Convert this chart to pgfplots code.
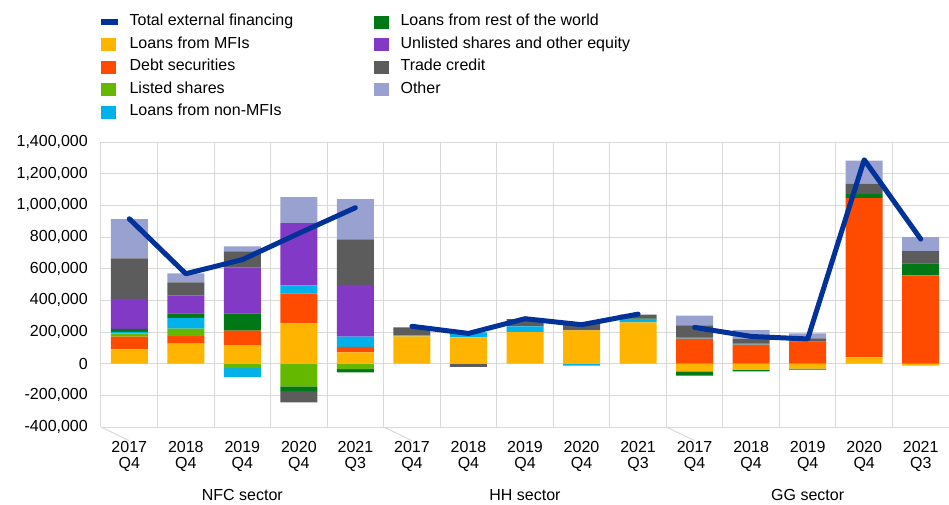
\documentclass[border=0pt]{standalone}
\usepackage{pgfplots}
\pgfplotsset{compat=1.18}
\usepackage{pgfplotstable}
\usepackage{fontspec}
\setmainfont{Liberation Sans}
\newcommand\lf{\fontsize{16}{16.6}\selectfont}

\definecolor{tot}{HTML}{003299}
\definecolor{mfi}{HTML}{FFB400}
\definecolor{debt}{HTML}{FF4B00}
\definecolor{lst}{HTML}{65B800}
\definecolor{nmfi}{HTML}{00B1EA}
\definecolor{rw}{HTML}{007816}
\definecolor{unl}{HTML}{8139C6}
\definecolor{trd}{HTML}{5C5C5C}
\definecolor{oth}{HTML}{98A1D0}
\definecolor{grd}{HTML}{D9D9D9}

% positive parts of each bar
\pgfplotstableread{
x  mfi    debt    lst   nmfi  rw    unl    trd    oth
0  90500  80000   21000 10000 19000 189500 254700 248400
1  126300 48400   46300 67400 29500 111600 84200  56800
2  117900 90500   0     0     109500 288400 103100 31600
3  254700 187300  0     52600 0     393600 0      164200
4  71600  33700   0     65300 0     326300 288400 254700
5  172700 0       0     6000  0     0      50500  0
6  166000 0       0     31600 0     0      0      0
7  200000 0       0     36000 0     0      46000  0
8  210000 0       0     0     0     0      40000  0
9  261000 0       0     17000 6000  0      25000  0
10 0      157900  0     10500 0     0      73700  61000
11 0      120000  0     10500 0     0      27400  54700
12 0      139000  0     0     0     0      21000  31600
13 40000  1006200 0     0     25300 0      65300  145200
14 0      557800  0     0     75800 0      77900  88400
}\pos

% negative parts of each bar
\pgfplotstableread{
x  mfi    debt lst     nmfi   rw     unl trd    oth
0  0      0    0       0      0      0   0      0
1  0      0    0       0      0      0   0      0
2  0      0    -27400  -57000 0      0   0      0
3  0      0    -143100 0      -29500 0   -71600 0
4  0      0    -33700  0      -21000 0   0      0
5  0      0    0       0      0      0   0      0
6  0      0    0       0      0      0   -21000 0
7  0      0    0       0      0      0   0      0
8  0      0    0       -12600 0      0   0      0
9  0      0    0       0      0      0   0      0
10 -48400 0    0       0      -27400 0   0      0
11 -37900 0    0       0      -10500 0   0      0
12 -31600 0    0       0      -6300  0   0      0
13 0      0    0       0      0      0   0      0
14 -12600 0    0       0      0      0   0      0
}\negv

\pgfplotsset{
  base/.style={
    at={(0,0)}, anchor=south west,
    scale only axis, width=848pt, height=285pt,
    xmin=-0.5, xmax=14.5, ymin=-400000, ymax=1400000,
    clip=false,
  },
  bars/.style={base, ybar stacked, bar width=37pt},
  sq/.style={legend image code/.code={\fill[#1] (0pt,-6pt) rectangle (14pt,6pt);}},
  leg/.style={
    legend cell align=left,
    legend style={draw=none, fill=none, anchor=north west, at={(#1,1.4484)},
      inner sep=0pt, row sep=7.5pt, font=\lf,
      nodes={inner sep=0pt, text height=11.5pt, text depth=3.5pt},
      /tikz/every odd column/.append style={column sep=12pt}},
  },
}

\begin{document}
\begin{tikzpicture}
\path[use as bounding box] (-101pt,-77pt) rectangle (848pt,427pt);

% background axis: grid, ticks, negative bars
\begin{axis}[bars,
  ytick={-400000,-200000,0,200000,400000,600000,800000,1000000,1200000,1400000},
  scaled y ticks=false,
  yticklabel style={font=\lf, inner sep=0pt, xshift=-13pt,
    /pgf/number format/.cd, fixed, 1000 sep={,}, assume math mode=true},
  xtick={0,1,2,3,4,5,6,7,8,9,10,11,12,13,14},
  xticklabels={{2017\\Q4},{2018\\Q4},{2019\\Q4},{2020\\Q4},{2021\\Q3},
               {2017\\Q4},{2018\\Q4},{2019\\Q4},{2020\\Q4},{2021\\Q3},
               {2017\\Q4},{2018\\Q4},{2019\\Q4},{2020\\Q4},{2021\\Q3}},
  xticklabel style={font=\lf, align=center, inner sep=0pt, yshift=-14pt},
  minor xtick={-0.5,0.5,1.5,2.5,3.5,4.5,5.5,6.5,7.5,8.5,9.5,10.5,11.5,12.5,13.5,14.5},
  xminorgrids, ymajorgrids,
  grid style={grd, line width=1pt}, minor grid style={grd, line width=1pt},
  axis line style={draw=none}, major tick length=0pt, minor tick length=0pt,
  leg=0,
]
\addlegendimage{legend image code/.code={\fill[tot] (0pt,-2.5pt) rectangle (16pt,2.5pt);}}
\addlegendentry{Total external financing}
\addlegendimage{sq=mfi}\addlegendentry{Loans from MFIs}
\addlegendimage{sq=debt}\addlegendentry{Debt securities}
\addlegendimage{sq=lst}\addlegendentry{Listed shares}
\addlegendimage{sq=nmfi}\addlegendentry{Loans from non-MFIs}

\addplot[fill=mfi, draw=none, forget plot] table[x=x, y=mfi] {\negv};
\addplot[fill=debt, draw=none, forget plot] table[x=x, y=debt] {\negv};
\addplot[fill=lst, draw=none, forget plot] table[x=x, y=lst] {\negv};
\addplot[fill=nmfi, draw=none, forget plot] table[x=x, y=nmfi] {\negv};
\addplot[fill=rw, draw=none, forget plot] table[x=x, y=rw] {\negv};
\addplot[fill=unl, draw=none, forget plot] table[x=x, y=unl] {\negv};
\addplot[fill=trd, draw=none, forget plot] table[x=x, y=trd] {\negv};
\addplot[fill=oth, draw=none, forget plot] table[x=x, y=oth] {\negv};

\draw[grd, line width=1pt] (axis cs:-0.5,-400000) -- ++(0,-77pt);
\draw[grd, line width=1pt] (axis cs:4.5,-400000) -- ++(0,-77pt);
\draw[grd, line width=1pt] (axis cs:9.5,-400000) -- ++(0,-77pt);
\draw[grd, line width=1pt] (axis cs:14.5,-400000) -- ++(0,-77pt);
\node[font=\lf, anchor=base, yshift=-73.7pt] at (axis cs:2,-400000) {NFC sector};
\node[font=\lf, anchor=base, yshift=-73.7pt] at (axis cs:7,-400000) {HH sector};
\node[font=\lf, anchor=base, yshift=-73.7pt] at (axis cs:12,-400000) {GG sector};
\end{axis}

% positive bars
\begin{axis}[bars, hide axis, leg=0.3219]
\addlegendimage{sq=rw}\addlegendentry{Loans from rest of the world}
\addlegendimage{sq=unl}\addlegendentry{Unlisted shares and other equity}
\addlegendimage{sq=trd}\addlegendentry{Trade credit}
\addlegendimage{sq=oth}\addlegendentry{Other}

\addplot[fill=mfi, draw=none, forget plot] table[x=x, y=mfi] {\pos};
\addplot[fill=debt, draw=none, forget plot] table[x=x, y=debt] {\pos};
\addplot[fill=lst, draw=none, forget plot] table[x=x, y=lst] {\pos};
\addplot[fill=nmfi, draw=none, forget plot] table[x=x, y=nmfi] {\pos};
\addplot[fill=rw, draw=none, forget plot] table[x=x, y=rw] {\pos};
\addplot[fill=unl, draw=none, forget plot] table[x=x, y=unl] {\pos};
\addplot[fill=trd, draw=none, forget plot] table[x=x, y=trd] {\pos};
\addplot[fill=oth, draw=none, forget plot] table[x=x, y=oth] {\pos};
\end{axis}

% total external financing
\begin{axis}[base, hide axis]
\addplot[tot, line width=5pt, line cap=round, line join=round]
  coordinates {(0,915000) (1,568000) (2,657000) (3,823000) (4,985000)};
\addplot[tot, line width=5pt, line cap=round, line join=round]
  coordinates {(5,236000) (6,191000) (7,284000) (8,246000) (9,313000)};
\addplot[tot, line width=5pt, line cap=round, line join=round]
  coordinates {(10,229000) (11,172000) (12,156000) (13,1288000) (14,787000)};
\end{axis}
\end{tikzpicture}
\end{document}
